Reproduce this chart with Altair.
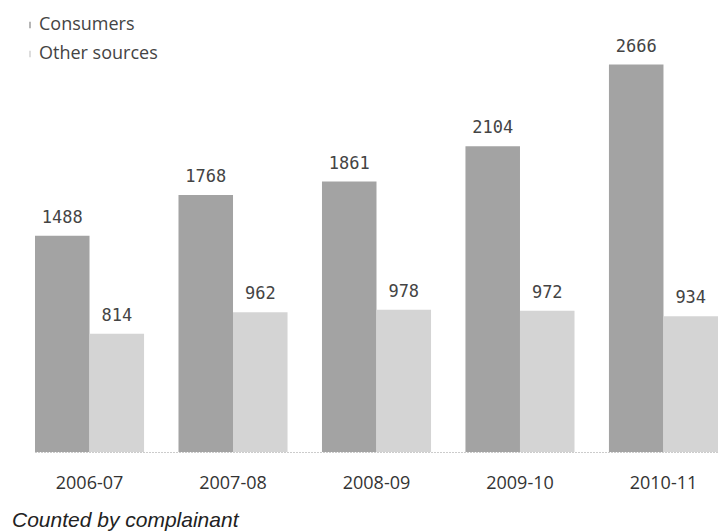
import altair as alt
import pandas as pd

years = ["2006-07", "2007-08", "2008-09", "2009-10", "2010-11"]
consumers = [1488, 1768, 1861, 2104, 2666]
others = [814, 962, 978, 972, 934]
series = ["Consumers", "Other sources"]
colors = ["#a3a3a3", "#d4d4d4"]

rows = []
for i, y in enumerate(years):
    rows.append({"year": y, "source": series[0], "value": consumers[i]})
    rows.append({"year": y, "source": series[1], "value": others[i]})
df = pd.DataFrame(rows)

x = alt.X("year:N", sort=years, title=None,
          scale=alt.Scale(paddingInner=0.24, paddingOuter=0),
          axis=alt.Axis(labelAngle=0, labelFont="Open Sans", labelFontSize=18,
                        labelColor="#333333", labelPadding=22, ticks=False,
                        domainColor="#999999", domainDash=[1, 2], domainWidth=1))
xo = alt.XOffset("source:N", sort=series)
y = alt.Y("value:Q", scale=alt.Scale(domain=[0, 3000]), axis=None)

bars = alt.Chart(df).mark_bar().encode(
    x=x, xOffset=xo, y=y,
    color=alt.Color("source:N", sort=series,
                    scale=alt.Scale(domain=series, range=colors),
                    legend=alt.Legend(title=None, orient="none", legendX=-14, legendY=0,
                                      labelFont="Open Sans", labelFontSize=18,
                                      labelColor="#444444", rowPadding=11,
                                      symbolType="M-0.25,-1L0.25,-1L0.25,1L-0.25,1Z",
                                      symbolSize=40, symbolStrokeWidth=0,
                                      labelOffset=0)),
)

labels = alt.Chart(df).mark_text(baseline="alphabetic", dy=-13, font="DejaVu Sans Mono",
                                 fontSize=17, color="#444444").encode(
    x=alt.X("year:N", sort=years), xOffset=xo, y=y, text="value:Q"
)

chart = alt.layer(bars, labels).properties(
    width=683, height=436,
    autosize=alt.AutoSizeParams(type="none"),
    padding={"left": 35, "top": 16, "right": 0, "bottom": 80},
    title=alt.TitleParams("Counted by complainant", orient="bottom", anchor="start",
                          frame="group", dx=-23, offset=18, font="Liberation Sans",
                          fontSize=21, fontStyle="italic", fontWeight="normal",
                          color="#222222"),
).configure_view(stroke=None)

chart.save("out.html", embed_options={"renderer": "svg", "actions": False})
